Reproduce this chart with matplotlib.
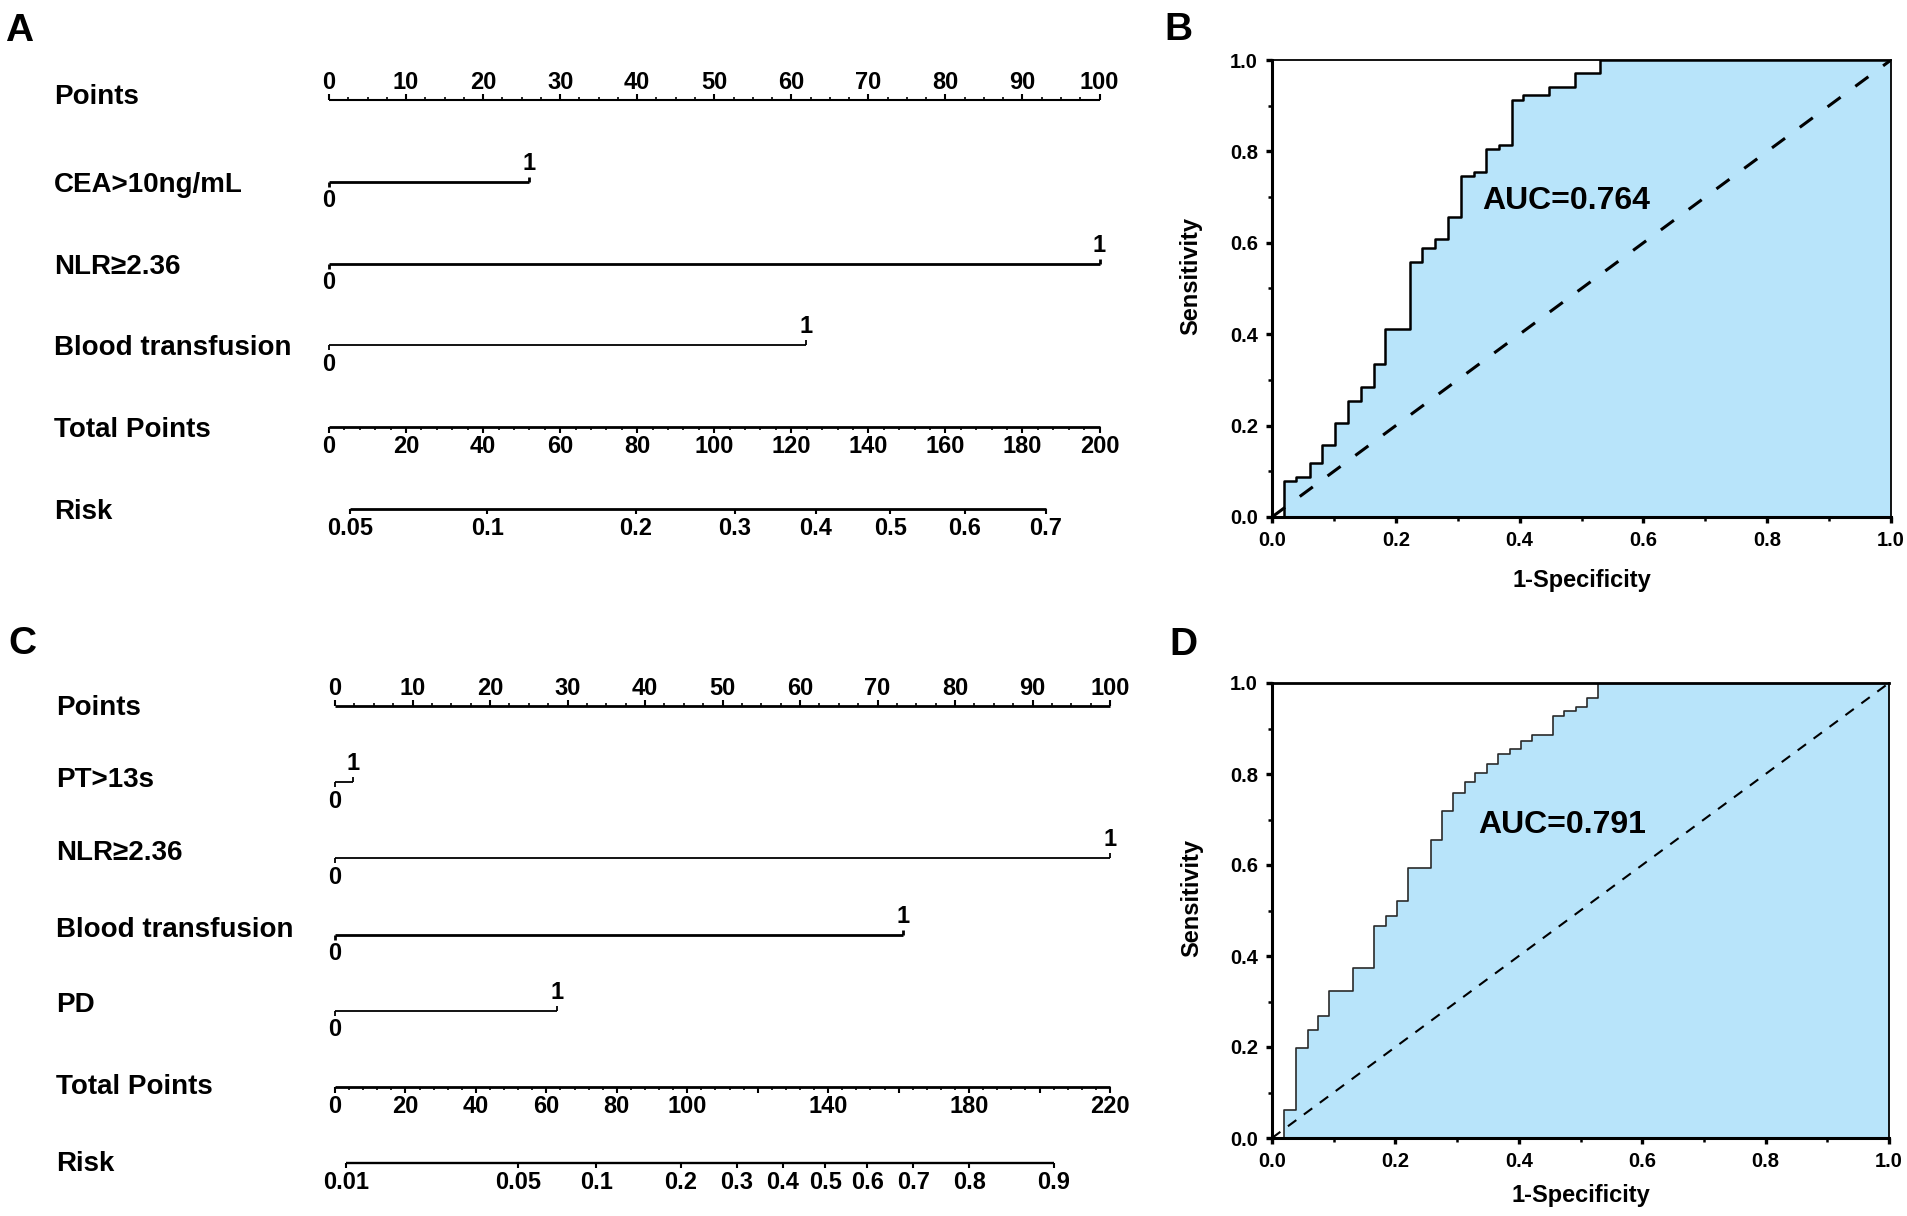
import numpy as np
import matplotlib
matplotlib.use('Agg')
import matplotlib.pyplot as plt
from matplotlib.ticker import MultipleLocator, FormatStrFormatter

plt.rcParams['font.family'] = ['Liberation Sans', 'DejaVu Sans']
plt.rcParams['font.weight'] = 'bold'

# ---------------- data ----------------
# nomogram A
a_names = ['CEA>10ng/mL', 'NLR≥2.36', 'Blood transfusion']
a_points = [26.0, 100.0, 61.9]
a_total_max = 200
a_total_labels = [0, 20, 40, 60, 80, 100, 120, 140, 160, 180, 200]
a_risk_labels = [0.05, 0.1, 0.2, 0.3, 0.4, 0.5, 0.6, 0.7]
a_lp = (-3.06, 0.0210)          # logit(risk) = b0 + b1 * total points

# nomogram C
c_names = ['PT>13s', 'NLR≥2.36', 'Blood transfusion', 'PD']
c_points = [2.3, 100.0, 73.3, 28.6]
c_total_max = 220
c_total_labels = [0, 20, 40, 60, 80, 100, 140, 180, 220]
c_risk_labels = [0.01, 0.05, 0.1, 0.2, 0.3, 0.4, 0.5, 0.6, 0.7, 0.8, 0.9]
c_lp = (-4.705, 0.03382)

points_labels = [0, 10, 20, 30, 40, 50, 60, 70, 80, 90, 100]

# ROC B
b_fpr = [0.0, 0.0195, 0.039, 0.061, 0.081, 0.101, 0.122, 0.143, 0.164, 0.183,
         0.223, 0.243, 0.264, 0.284, 0.305, 0.326, 0.346, 0.366, 0.387, 0.405,
         0.448, 0.489, 0.530, 1.0]
b_tpr = [0.0, 0.079, 0.088, 0.119, 0.157, 0.205, 0.254, 0.284, 0.334, 0.412,
         0.559, 0.588, 0.608, 0.657, 0.747, 0.756, 0.805, 0.815, 0.912, 0.923,
         0.941, 0.972, 1.0, 1.0]
b_auc = 'AUC=0.764'

# ROC D
d_fpr = [0.0, 0.020, 0.039, 0.058, 0.075, 0.093, 0.131, 0.165, 0.185, 0.203,
         0.221, 0.257, 0.275, 0.294, 0.312, 0.329, 0.348, 0.366, 0.386, 0.403,
         0.421, 0.456, 0.474, 0.493, 0.511, 0.529, 1.0]
d_tpr = [0.0, 0.062, 0.197, 0.238, 0.269, 0.323, 0.373, 0.467, 0.489, 0.521,
         0.593, 0.655, 0.718, 0.759, 0.783, 0.802, 0.822, 0.843, 0.854, 0.873,
         0.885, 0.928, 0.938, 0.947, 0.968, 1.0, 1.0]
d_auc = 'AUC=0.791'

FILL = '#b8e4fa'
W, H = 1907, 1216

fig = plt.figure(figsize=(W / 100, H / 100), dpi=100)


def px_axes(x0, y0, x1, y1):
    # box in pixels (origin top-left) -> axes
    return fig.add_axes([x0 / W, 1 - y1 / H, (x1 - x0) / W, (y1 - y0) / H])


def note(ax, s, x, y, dx, dy, size, ha='center'):
    ax.annotate(s, xy=(x, y), xytext=(dx, dy), textcoords='offset pixels',
                ha=ha, va='baseline', fontsize=size, fontweight='bold',
                annotation_clip=False)


def nomogram(ax, names, pts, total_max, total_labels, risk_labels, lp,
             label_dx, label_dy, lws):
    rows = ['Points'] + names + ['Total Points', 'Risk']
    n = len(rows)
    ax.set_xlim(0, 100)
    ax.set_ylim(n - 1, 0)
    ax.axis('off')
    fs_lab, fs_num = 20, 17
    cap_lab = 0.716 * fs_lab / 72 * 100 / 2
    cap_num = 0.716 * fs_num / 72 * 100 / 2

    for r, name in enumerate(rows):
        note(ax, name, 0, r, label_dx, -(label_dy[r] + cap_lab), fs_lab, ha='left')

    kw = dict(color='black', clip_on=False, solid_capstyle='butt')
    # Points scale
    r = 0
    ax.plot([0, 100], [r, r], lw=lws[r], **kw)
    minor = np.arange(0, 100.01, 2.5)
    ax.plot(minor, [r] * len(minor), ls='none', marker=2, ms=2.3, mew=1.2, **kw)
    ax.plot(points_labels, [r] * len(points_labels), ls='none', marker=2,
            ms=4.3, mew=1.5, **kw)
    for v in points_labels:
        note(ax, str(v), v, r, 0, 19.5 - cap_num, fs_num)

    # binary predictors
    for i, p in enumerate(pts):
        r = i + 1
        ax.plot([0, p], [r, r], lw=lws[r], **kw)
        ax.plot([0], [r], ls='none', marker=3, ms=3.6, mew=lws[r], **kw)
        ax.plot([p], [r], ls='none', marker=2, ms=3.6, mew=lws[r], **kw)
        note(ax, '0', 0, r, 0, -(17 + cap_num), fs_num)
        note(ax, '1', p, r, 0, 20.5 - cap_num, fs_num)

    # Total points scale
    r = n - 2
    scale = 100.0 / total_max
    ax.plot([0, 100], [r, r], lw=lws[r], **kw)
    minor = np.arange(0, total_max + 0.01, 4) * scale
    major = np.arange(0, total_max + 0.01, 20) * scale
    ax.plot(minor, [r] * len(minor), ls='none', marker=3, ms=2.3, mew=1.2, **kw)
    ax.plot(major, [r] * len(major), ls='none', marker=3, ms=4.3, mew=1.5, **kw)
    for v in total_labels:
        note(ax, str(v), v * scale, r, 0, -(17 + cap_num), fs_num)

    # Risk scale
    r = n - 1
    rl = np.array(risk_labels)
    rx = (np.log(rl / (1 - rl)) - lp[0]) / lp[1] * scale
    ax.plot([rx[0], rx[-1]], [r, r], lw=lws[r], **kw)
    ax.plot(rx, [r] * len(rx), ls='none', marker=3, ms=3.6, mew=1.5, **kw)
    for v, x in zip(risk_labels, rx):
        note(ax, f'{v:g}', x, r, 0, -(17.5 + cap_num), fs_num)


def roc(ax, fpr, tpr, auc, auc_xy, curve_color, curve_lw, diag_lw, diag_dash,
        top_lw, xlab_y, ylab_xy):
    ax.fill_between(fpr, tpr, step='post', color=FILL, lw=0)
    ax.plot(fpr, tpr, drawstyle='steps-post', color=curve_color, lw=curve_lw)
    ax.plot([0, 1], [0, 1], color='black', lw=diag_lw, ls=(0, diag_dash))
    ax.set_xlim(0, 1)
    ax.set_ylim(0, 1)
    for s in ['left', 'bottom']:
        ax.spines[s].set_linewidth(2.2)
    ax.spines['top'].set_linewidth(top_lw)
    ax.spines['right'].set_linewidth(1.3)
    ax.xaxis.set_major_locator(MultipleLocator(0.2))
    ax.xaxis.set_minor_locator(MultipleLocator(0.1))
    ax.yaxis.set_major_locator(MultipleLocator(0.2))
    ax.yaxis.set_minor_locator(MultipleLocator(0.1))
    ax.xaxis.set_major_formatter(FormatStrFormatter('%.1f'))
    ax.yaxis.set_major_formatter(FormatStrFormatter('%.1f'))
    ax.tick_params(which='major', direction='out', length=4.5, width=2.4,
                   labelsize=14.5, pad=5.5)
    ax.tick_params(which='minor', direction='out', length=3, width=1.8)
    for t in ax.get_xticklabels() + ax.get_yticklabels():
        t.set_fontweight('bold')
    ax.set_xlabel('1-Specificity', fontsize=17, fontweight='bold')
    ax.set_ylabel('Sensitivity', fontsize=17, fontweight='bold')
    ax.xaxis.set_label_coords(0.5, xlab_y)
    ax.yaxis.set_label_coords(*ylab_xy)
    ax.text(auc_xy[0], auc_xy[1], auc, transform=ax.transAxes, ha='left',
            va='center', fontsize=23, fontweight='bold')


# panel A
ax_a = px_axes(329, 100, 1099.5, 509)
nomogram(ax_a, a_names, a_points, a_total_max, a_total_labels, a_risk_labels,
         a_lp, -275, [-6, 0, 0, 0, 0, 0], [1.5, 2.0, 2.0, 1.3, 2.0, 2.0])

# panel C
ax_c = px_axes(335, 706, 1110, 1163.3)
nomogram(ax_c, c_names, c_points, c_total_max, c_total_labels, c_risk_labels,
         c_lp, -279, [-1, -5, -8, -8, -9, -3, -2],
         [2.0, 1.3, 1.3, 2.0, 1.3, 2.0, 1.7])

# panel B
ax_b = px_axes(1272, 60, 1891, 517)
roc(ax_b, b_fpr, b_tpr, b_auc, (0.339, 0.691), 'black', 1.8, 2.2, (5.3, 6),
    1.3, -0.113, (-0.113, 0.527))

# panel D
ax_d = px_axes(1272, 683, 1889, 1138)
roc(ax_d, d_fpr, d_tpr, d_auc, (0.335, 0.689), '#2a2a2a', 1.2, 1.5, (5, 4.5),
    2.0, -0.101, (-0.112, 0.527))

# panel letters
for s, x, y in [('A', 5, 13), ('B', 1164, 12), ('C', 8, 626), ('D', 1169, 627)]:
    fig.text(x / W, 1 - y / H, s, ha='left', va='top', fontsize=28,
             fontweight='bold')

fig.savefig('out.png', dpi=100, facecolor='white')
